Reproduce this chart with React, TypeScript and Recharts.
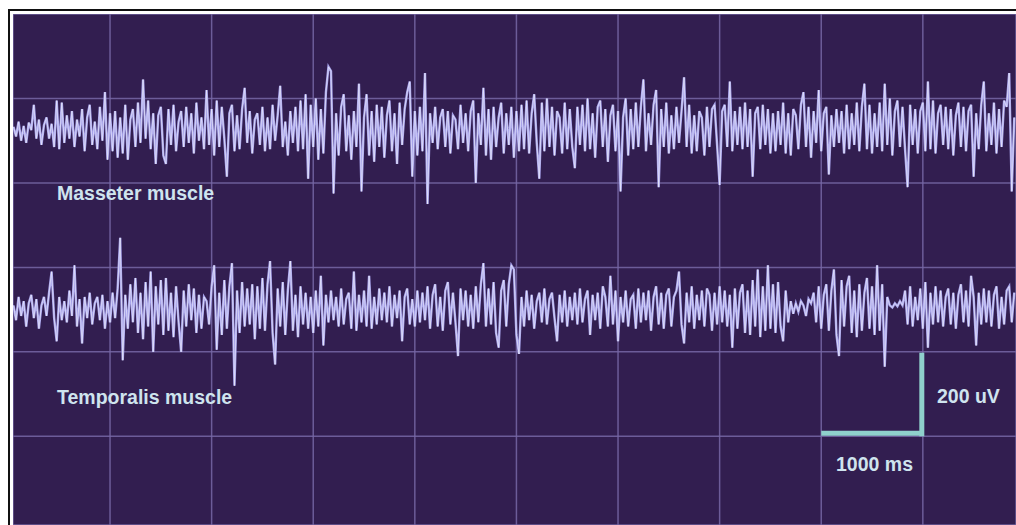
import { LineChart, Line, XAxis, YAxis, CartesianGrid, ReferenceLine } from 'recharts';

// sampling: one value every 25 ms starting at 50 ms
const SAMPLE_START = 50;
const SAMPLE_STEP = 25;

const timeTicks = [1000, 2000, 3000, 4000, 5000, 6000, 7000, 8000, 9000];
const voltTicks = [0, 200, 400, 600, 800, 1000];

// channel offsets on the shared uV axis
const MASSETER_BASE = 925;
const TEMPORALIS_BASE = 500;

// deflection in uV
const masseter = [
  8, -15, 20, -25, 10, -30, 18, 0, 60, -20, 25, -35, 12, 30, -20, 15, -40, 70, -45, 65,
  -30, 35, -20, 45, -40, 25, -15, 50, -50, 30, 60, -35, 20, -45, 55, -25, 90, -70, 40, -50,
  45, -65, 30, -55, 60, -70, 25, 50, -40, 65, -30, 120, -20, 70, -45, 40, -80, 35, 55, -60,
  -80, 50, -35, 60, -50, 20, 45, -40, 55, -30, 40, -55, 65, -25, 30, -45, 95, -35, 50, -60,
  70, -40, 55, -20, -110, 40, 60, -50, 35, -45, 50, 100, -30, 45, -55, 25, 40, -35, 55, -50,
  30, -45, 60, -25, 35, 105, -40, 20, -60, 45, -30, 55, -50, 70, -45, 85, -115, 60, -40, 75,
  -70, 50, -55, 90, 150, 140, -150, 40, -60, 55, 85, -50, 35, -70, 45, -40, 110, -145, 30, 85,
  -60, 45, -75, 60, -40, 55, -65, 35, 70, -50, 40, -80, 65, -35, 50, 90, 115, -110, 45, -60,
  55, -50, 135, -175, 40, -30, 55, -45, 30, 50, -40, 45, -55, 35, 25, -45, 60, -30, 40, -50,
  45, 70, -125, 40, -35, 100, -60, 50, -70, 55, -40, 30, 65, -55, 40, -35, 55, -65, 45, -50,
  60, -45, 70, -55, 40, 85, -30, -115, 65, -50, 75, -40, 55, -60, 45, 30, -55, 65, -45, 50,
  -40, -90, 55, -35, 60, -50, 75, -45, 40, -65, 55, 70, -40, 50, -75, 35, 60, -50, 45, -145,
  30, 75, -60, 50, -45, 65, -40, 55, 120, -50, 40, -35, 60, 95, -135, 50, -40, 65, -55, 35,
  -45, 55, -30, 45, 125, -40, 60, -55, 35, -50, 45, 30, -60, 55, -40, 50, 60, -35, -130, 45,
  60, -40, 115, -50, 45, -35, 55, -45, 65, -40, 50, -110, 40, 55, -45, 60, -35, 50, -55, 40,
  -50, 45, -35, 65, -55, 40, -60, 50, 35, -45, 60, 90, -40, 55, -65, 45, -30, 95, -50, 40,
  55, -105, 35, -40, 50, -30, 45, -55, 60, -45, 40, -35, 65, -50, 55, 110, -45, 60, -55, 40,
  -40, 65, -50, 110, -35, 75, -60, 45, 70, -40, 55, -45, -135, 60, -35, 50, -55, 45, 65, -50,
  115, -45, 70, -55, 40, 60, -35, 55, -45, 50, -60, 35, 65, -40, 55, -50, 45, 60, -110, 40,
  -45, 60, 115, -50, 40, -35, 65, -55, 50, -40, 70, 55, 135, -145, 30,
];

const temporalis = [
  10, -25, 30, -15, 20, -40, 15, 35, -20, 25, -45, 10, 30, -15, 40, 90, -20, -75, 30, -25,
  20, -30, 45, -15, 105, -40, 25, -80, 30, -20, 40, -35, 15, 30, -25, 35, -45, 20, -30, 40,
  -20, 50, 170, -120, 35, -45, 60, -30, 75, -55, 40, -70, 65, -40, 90, -100, 55, -35, 70, -60,
  75, -50, 40, -65, 55, -30, -100, 45, -40, 60, -25, 50, -55, 35, -45, 30, 20, -35, 55, 105,
  -95, 40, -60, 70, -45, 55, 110, -180, 45, -55, 65, -40, 50, -35, 60, -70, 55, -45, 75, -50,
  60, 115, -55, -130, 50, -40, 65, -60, 45, 115, -50, 35, -65, 55, -35, 40, -45, 30, -55, 45,
  -40, 80, -85, 35, -30, 45, -25, 30, -40, 50, -35, 25, 40, -45, 90, -50, 35, -30, 45, -40,
  80, -45, 30, -35, 50, -25, 40, -30, 55, -40, 35, -20, 45, -75, 30, 50, -35, 25, -40, 45,
  -30, 40, -25, 55, -45, 35, 60, -40, 30, -50, 45, 65, -35, 40, -30, -110, 50, -25, 45, -40,
  35, -45, 55, -30, 60, 110, -40, 50, -35, 65, -55, -90, 45, 70, -40, 60, 105, 95, -60, -105,
  30, -40, 45, -25, 35, -45, 20, 40, -30, 50, -35, 25, 40, -20, -75, 35, -30, 45, -40, 30,
  -25, 40, -35, 50, -30, 25, 45, -60, 35, -25, 40, -45, 55, 30, -40, 80, -35, 45, -75, 30,
  -30, 45, -40, 25, 35, -45, 50, -30, 40, -25, 45, -50, 30, 55, -35, 40, -45, 35, 50, -40,
  30, 45, 90, -35, -80, 40, -30, 55, -45, 35, -25, 45, -40, 50, 35, -50, 40, -35, 55, -30,
  45, -40, 35, -90, 50, -45, 40, 60, -55, 45, -60, 70, -40, 95, -65, 55, -50, 105, -45, 60,
  -55, 65, -40, -75, 45, -30, 20, -10, 15, -5, 20, 10, -15, 25, 15, 40, -30, 55, -45, 35,
  60, -50, 45, 95, -60, -110, 70, -40, 55, 80, -55, 45, -65, 60, -50, 40, 75, -45, 55, -60,
  105, -50, 60, -135, 30, 10, 5, 15, 8, 20, 10, 45, -35, 55, -40, 30, -25, 50, -45, 65,
  -90, 40, -35, 55, -30, 45, -40, 30, 50, -35, 40, -45, 35, 60, -30, 45, -40, 80, 30, -85,
  40, -35, 50, -30, 45, -40, 35, 55, -45, 30, -35, 45, 55, -30, 40,
];

const data = masseter.map((m, i) => ({
  t: SAMPLE_START + i * SAMPLE_STEP,
  masseter: MASSETER_BASE + m,
  temporalis: TEMPORALIS_BASE + temporalis[i],
}));

const BG = '#321e50';
const GRID = '#7767a6';
const TRACE = '#a7a3ea';
const TRACE_HI = '#f4f3ff';
const SCALE = '#8fd0cc';
const LABEL = '#cfe4ee';

const labelStyle: React.CSSProperties = {
  position: 'absolute',
  color: LABEL,
  fontFamily: '"Liberation Sans", Arial, sans-serif',
  fontWeight: 700,
  fontSize: 19.5,
  whiteSpace: 'nowrap',
  lineHeight: '22px',
};

export default function App() {
  return (
    <div style={{ position: 'absolute', left: 0, top: 0, width: 1016, height: 525, background: '#fff', overflow: 'hidden' }}>
      {/* black frame at top / left */}
      <div style={{ position: 'absolute', left: 8, top: 9, width: 1008, height: 2, background: '#111' }} />
      <div style={{ position: 'absolute', left: 8, top: 9, width: 2, height: 516, background: '#111' }} />

      <div style={{ position: 'absolute', left: 13, top: 14, width: 1003, height: 511, background: BG }}>
        <LineChart width={1003} height={511} data={data} margin={{ top: 0, right: 0, bottom: 0, left: 0 }}>
          <CartesianGrid stroke={GRID} strokeWidth={1.5} strokeOpacity={0.85} />
          <XAxis dataKey="t" type="number" domain={[45, 9917]} ticks={timeTicks} hide allowDataOverflow />
          <YAxis type="number" domain={[-10, 1200]} ticks={voltTicks} hide allowDataOverflow />
          <Line type="linear" dataKey="masseter" stroke={TRACE} strokeWidth={2.4} dot={false} isAnimationActive={false} />
          <Line type="linear" dataKey="temporalis" stroke={TRACE} strokeWidth={2.4} dot={false} isAnimationActive={false} />
          <Line type="linear" dataKey="masseter" stroke={TRACE_HI} strokeWidth={0.8} strokeOpacity={0.75} dot={false} isAnimationActive={false} />
          <Line type="linear" dataKey="temporalis" stroke={TRACE_HI} strokeWidth={0.8} strokeOpacity={0.75} dot={false} isAnimationActive={false} />
          {/* scale bar: 1000 ms x 200 uV */}
          <ReferenceLine segment={[{ x: 8000, y: 207 }, { x: 9010, y: 207 }]} stroke={SCALE} strokeWidth={5} />
          <ReferenceLine segment={[{ x: 8990, y: 200 }, { x: 8990, y: 398 }]} stroke={SCALE} strokeWidth={5} />
        </LineChart>
      </div>

      <div style={{ ...labelStyle, left: 57, top: 182 }}>Masseter muscle</div>
      <div style={{ ...labelStyle, left: 57, top: 386 }}>Temporalis muscle</div>
      <div style={{ ...labelStyle, left: 937, top: 385 }}>200 uV</div>
      <div style={{ ...labelStyle, left: 836, top: 453 }}>1000 ms</div>
    </div>
  );
}
